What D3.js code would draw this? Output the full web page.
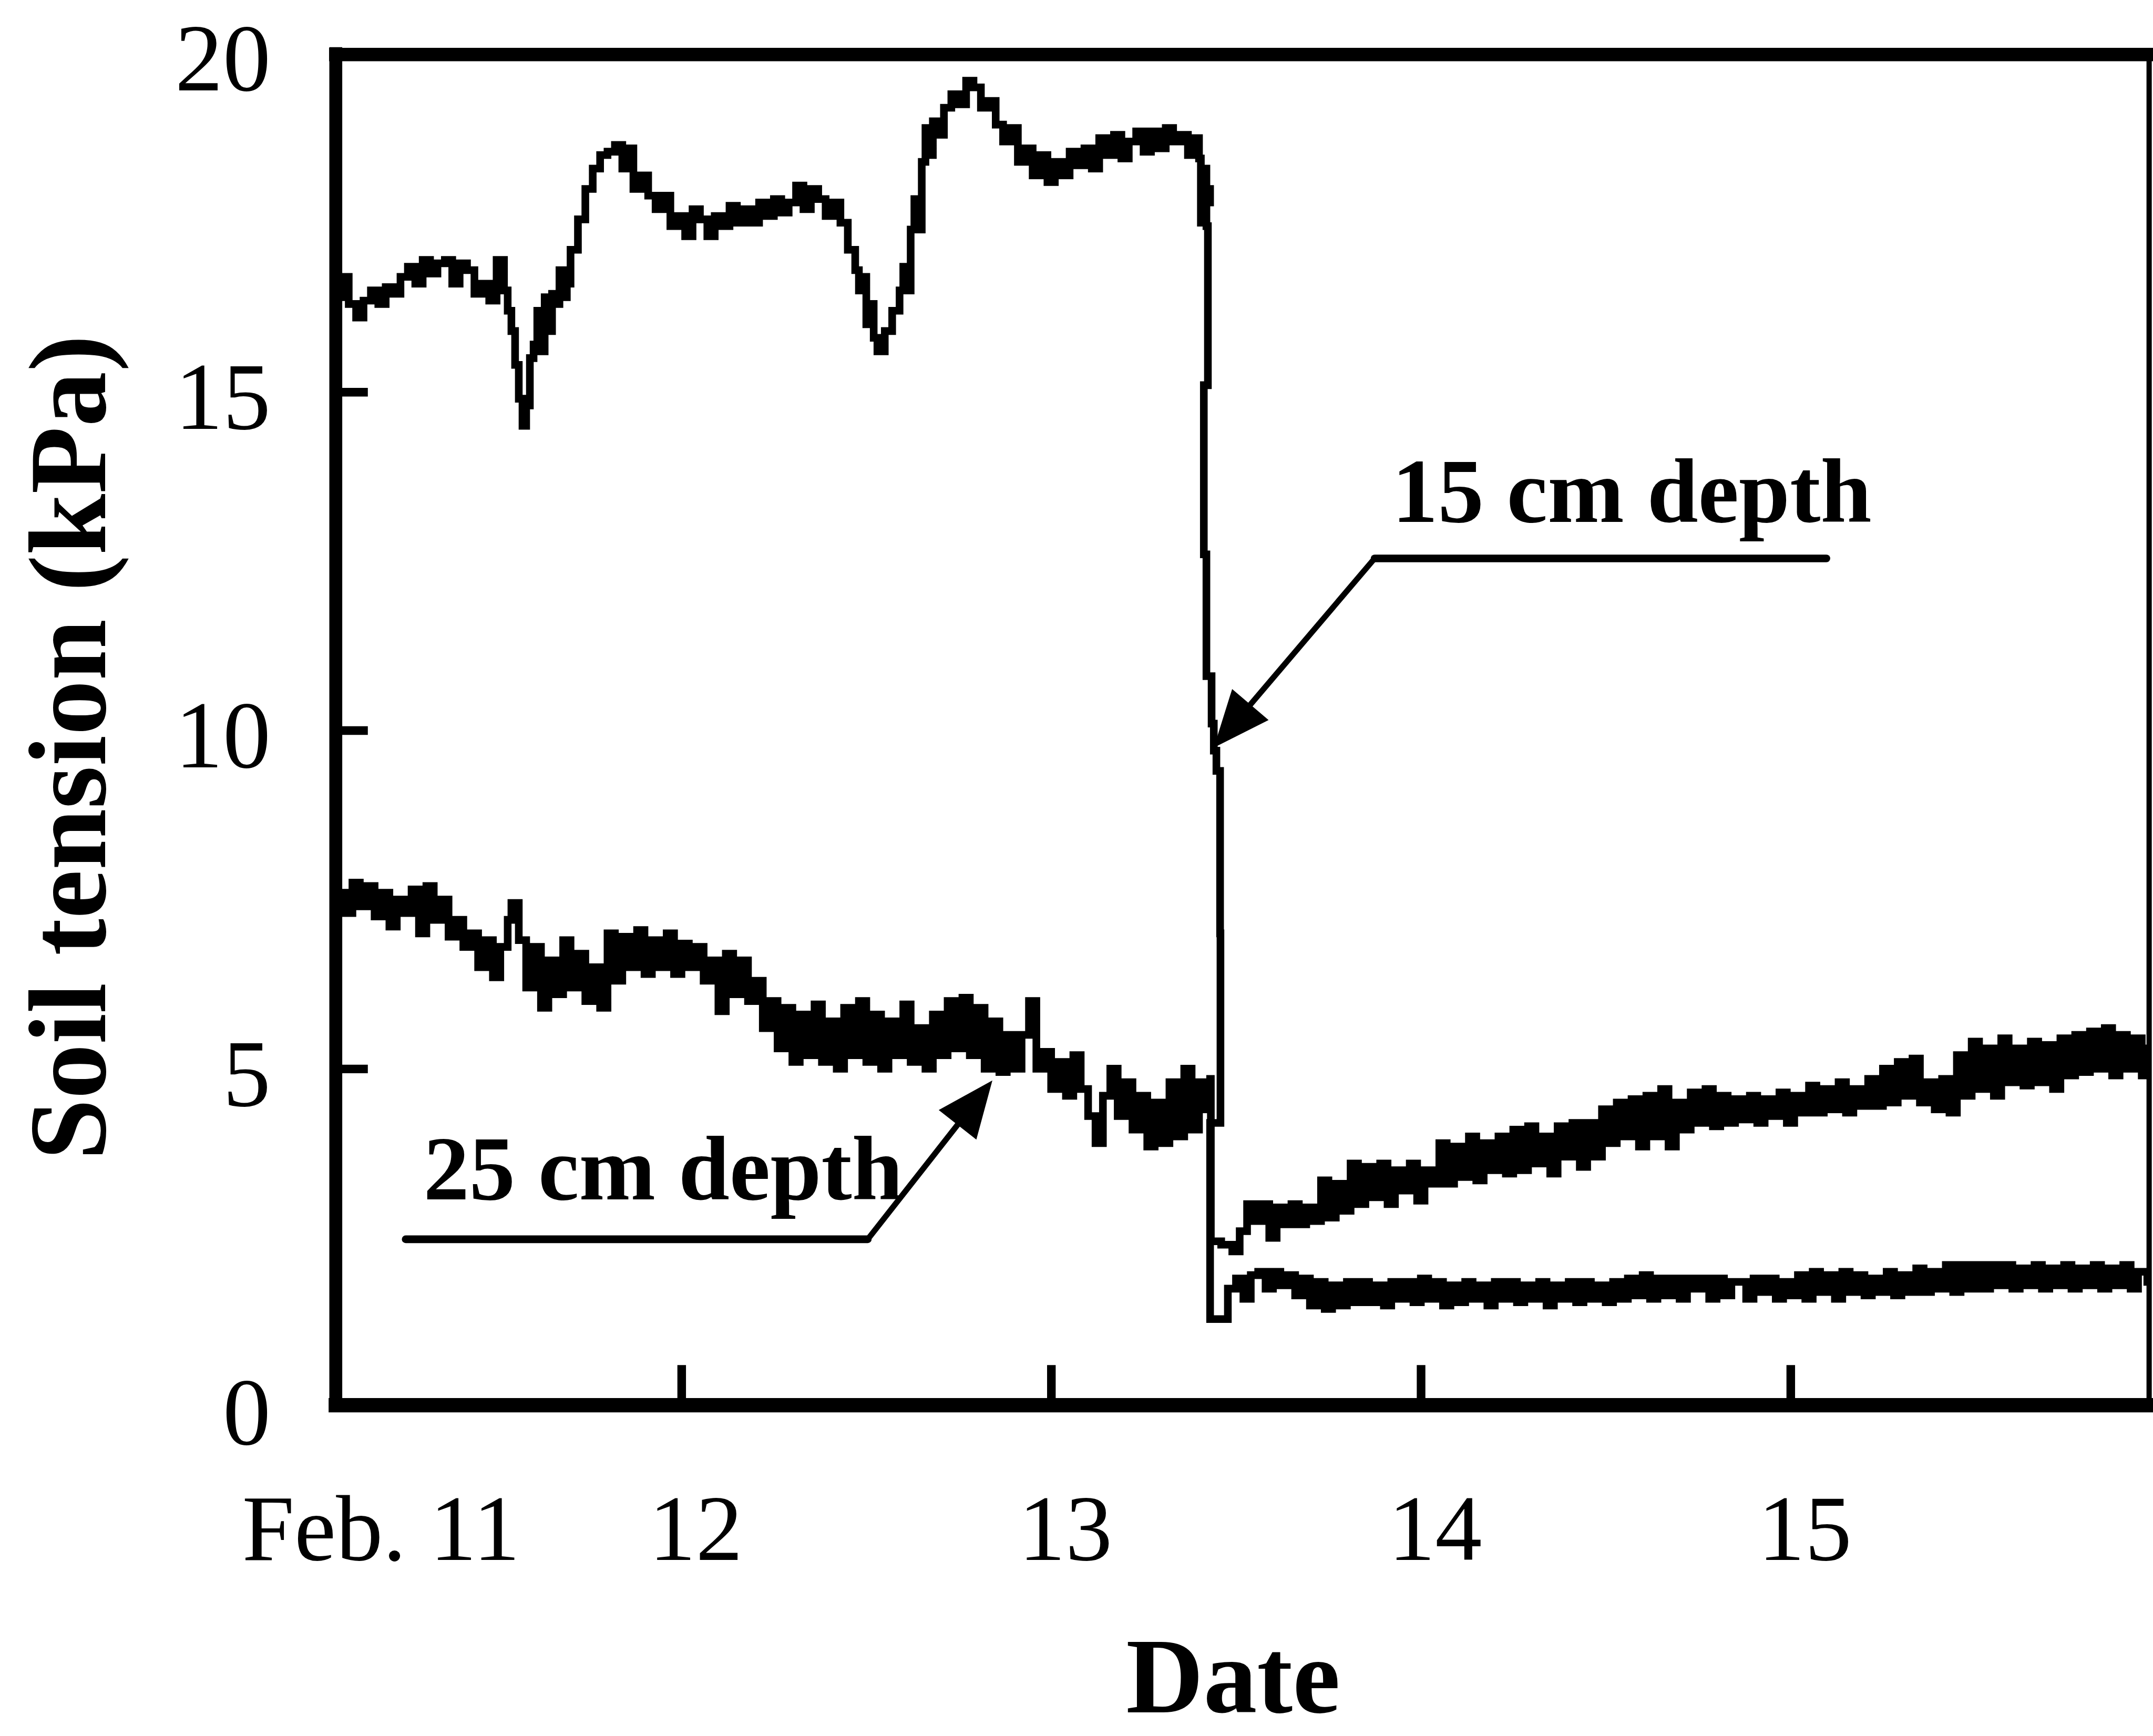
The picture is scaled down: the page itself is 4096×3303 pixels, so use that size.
<!DOCTYPE html>
<html><head><meta charset="utf-8">
<script src="https://cdn.jsdelivr.net/npm/d3@7"></script>
<style>body{margin:0;background:#fff} svg{display:block;background:#fff}</style>
</head><body>
<svg id="chart" width="4096" height="3303"></svg>
<script>
// ---------- data ----------
const yTickValues = [0, 5, 10, 15, 20];
const xTickDays = [12, 13, 14, 15];
const xTickLabels = ["Feb. 11", "12", "13", "14", "15"];
const xLabelDays = [11, 12, 13, 14, 15];

// 15 cm depth: [day of February, soil tension kPa]
const depth15 = [
[11.07,16.4],[11.09,16.7],[11.10,16.3],[11.12,16.1],[11.14,16.35],[11.16,16.5],[11.18,16.3],[11.20,16.55],[11.22,16.45],[11.24,16.7],
[11.26,16.85],[11.28,16.6],[11.30,16.95],[11.32,16.75],[11.34,16.9],[11.36,16.95],[11.38,16.6],[11.40,16.9],[11.42,16.8],[11.44,16.45],
[11.46,16.6],[11.48,16.35],[11.50,16.95],[11.52,16.5],[11.53,16.2],[11.54,15.9],[11.55,15.4],[11.56,14.9],[11.57,14.5],[11.58,14.8],
[11.59,15.5],[11.60,15.7],[11.61,16.2],[11.62,15.6],[11.63,16.4],[11.64,15.9],[11.65,16.45],[11.66,16.3],[11.67,16.8],[11.68,16.4],
[11.69,16.6],[11.70,17.1],[11.72,17.55],[11.74,18.0],[11.76,18.3],[11.78,18.5],[11.80,18.55],[11.82,18.65],[11.84,18.3],[11.85,18.6],
[11.87,18.0],[11.89,18.2],[11.91,17.9],[11.93,17.7],[11.95,17.9],[11.97,17.45],[11.99,17.6],[12.01,17.3],[12.03,17.7],[12.05,17.55],
[12.07,17.3],[12.09,17.6],[12.11,17.45],[12.13,17.75],[12.15,17.5],[12.17,17.7],[12.19,17.5],[12.21,17.8],[12.23,17.6],[12.25,17.85],
[12.27,17.65],[12.29,17.8],[12.31,18.05],[12.33,17.7],[12.35,18.0],[12.37,17.85],[12.39,17.6],[12.41,17.8],[12.43,17.5],[12.45,17.1],
[12.47,16.8],[12.48,16.5],[12.49,16.7],[12.50,16.0],[12.51,16.3],[12.52,15.8],[12.53,15.6],[12.55,15.9],[12.57,16.2],[12.59,16.5],
[12.60,16.85],[12.61,16.5],[12.62,17.4],[12.63,17.85],[12.64,17.4],[12.65,18.4],[12.66,18.9],[12.67,18.5],[12.68,19.0],[12.70,18.8],
[12.71,19.2],[12.73,19.4],[12.75,19.25],[12.77,19.6],[12.79,19.5],[12.81,19.2],[12.83,19.3],[12.85,18.95],[12.87,18.7],[12.89,18.9],
[12.91,18.4],[12.93,18.6],[12.95,18.2],[12.97,18.5],[12.99,18.1],[13.01,18.4],[13.03,18.2],[13.05,18.55],[13.07,18.35],[13.09,18.6],
[13.11,18.3],[13.13,18.75],[13.15,18.5],[13.17,18.8],[13.19,18.45],[13.21,18.7],[13.23,18.85],[13.25,18.55],[13.27,18.85],[13.29,18.6],
[13.31,18.9],[13.33,18.7],[13.35,18.8],[13.37,18.5],[13.39,18.75],[13.40,18.45],[13.405,17.5],[13.41,18.3],[13.42,18.0],[13.43,17.8],
[13.42,17.45],[13.424,15.1],[13.413,12.6],[13.42,10.8],[13.434,10.1],[13.44,9.7],[13.447,9.4],[13.457,7.0],[13.458,4.2],[13.43,4.1],
[13.43,1.3],[13.478,1.3],[13.478,1.75],[13.50,1.9],[13.52,1.6],[13.54,1.95],[13.56,2.0],[13.58,1.75],[13.60,2.0],[13.62,1.8],
[13.64,1.95],[13.66,1.65],[13.68,1.9],[13.70,1.5],[13.72,1.85],[13.74,1.45],[13.76,1.8],[13.78,1.5],[13.80,1.85],[13.82,1.55],
[13.84,1.85],[13.86,1.55],[13.88,1.8],[13.90,1.5],[13.92,1.85],[13.94,1.6],[13.96,1.85],[13.98,1.55],[14.00,1.9],[14.02,1.6],
[14.04,1.85],[14.06,1.5],[14.08,1.8],[14.10,1.55],[14.12,1.85],[14.14,1.6],[14.16,1.8],[14.18,1.5],[14.20,1.85],[14.22,1.6],
[14.24,1.85],[14.26,1.55],[14.28,1.8],[14.30,1.6],[14.32,1.85],[14.34,1.5],[14.36,1.8],[14.38,1.6],[14.40,1.85],[14.42,1.55],
[14.44,1.85],[14.46,1.6],[14.48,1.8],[14.50,1.55],[14.52,1.85],[14.54,1.6],[14.56,1.9],[14.58,1.65],[14.60,1.95],[14.62,1.6],
[14.64,1.9],[14.66,1.65],[14.68,1.9],[14.70,1.6],[14.72,1.9],[14.74,1.75],[14.76,1.9],[14.78,1.6],[14.80,1.9],[14.82,1.65],
[14.84,1.85],[14.86,1.85],[14.88,1.6],[14.90,1.9],[14.92,1.7],[14.94,1.9],[14.96,1.6],[14.98,1.85],[15.00,1.65],[15.02,1.95],
[15.04,1.6],[15.06,2.0],[15.08,1.7],[15.10,1.95],[15.12,1.6],[15.14,2.0],[15.16,1.7],[15.18,1.95],[15.20,1.65],[15.22,1.9],
[15.24,1.7],[15.26,2.0],[15.28,1.65],[15.30,1.95],[15.32,1.7],[15.34,2.05],[15.36,1.7],[15.38,2.0],[15.40,1.75],[15.42,2.1],
[15.44,1.7],[15.46,2.1],[15.48,1.75],[15.50,2.1],[15.52,1.75],[15.54,2.1],[15.56,1.8],[15.58,2.1],[15.60,1.75],[15.62,2.05],
[15.64,1.8],[15.66,2.1],[15.68,1.75],[15.70,2.05],[15.72,1.8],[15.74,2.1],[15.76,1.75],[15.78,2.05],[15.80,1.8],[15.82,2.1],
[15.84,1.75],[15.86,2.05],[15.88,1.8],[15.90,2.1],[15.92,1.75],[15.94,2.0],[15.965,1.85]
];

// 25 cm depth: [day of February, soil tension kPa]
const depth25 = [
[11.07,7.6],[11.09,7.3],[11.11,7.75],[11.13,7.4],[11.15,7.7],[11.17,7.25],[11.19,7.6],[11.21,7.1],[11.23,7.5],[11.25,7.3],
[11.27,7.65],[11.29,7.0],[11.31,7.7],[11.33,7.2],[11.35,7.5],[11.37,6.95],[11.39,7.2],[11.41,6.8],[11.43,7.0],[11.45,6.5],
[11.47,6.9],[11.49,6.35],[11.51,6.8],[11.53,7.2],[11.54,7.45],[11.56,6.9],[11.58,6.2],[11.60,6.8],[11.62,5.9],[11.64,6.6],
[11.66,6.1],[11.68,6.9],[11.70,6.2],[11.72,6.7],[11.74,6.0],[11.76,6.5],[11.78,5.9],[11.80,7.0],[11.82,6.3],[11.84,6.95],
[11.86,6.5],[11.88,7.05],[11.90,6.4],[11.92,6.9],[11.94,6.5],[11.96,7.0],[11.98,6.4],[12.00,6.85],[12.02,6.5],[12.04,6.8],
[12.06,6.3],[12.08,6.6],[12.10,5.85],[12.12,6.7],[12.14,6.1],[12.16,6.6],[12.18,6.0],[12.20,6.3],[12.22,5.6],[12.24,6.0],
[12.26,5.3],[12.28,5.9],[12.30,5.1],[12.32,5.8],[12.34,5.2],[12.36,5.95],[12.38,5.1],[12.40,5.7],[12.42,5.0],[12.44,5.9],
[12.46,5.2],[12.48,6.0],[12.50,5.1],[12.52,5.8],[12.54,5.0],[12.56,5.7],[12.58,5.2],[12.60,5.95],[12.62,5.1],[12.64,5.6],
[12.66,5.0],[12.68,5.8],[12.70,5.2],[12.72,6.0],[12.74,5.3],[12.76,6.05],[12.78,5.2],[12.80,5.9],[12.82,5.0],[12.84,5.7],
[12.86,4.95],[12.88,5.5],[12.90,5.0],[12.92,5.5],[12.94,6.0],[12.96,5.0],[12.98,5.25],[13.00,4.7],[13.02,5.1],[13.04,4.6],
[13.06,5.2],[13.08,4.7],[13.10,4.3],[13.12,3.9],[13.14,4.6],[13.16,5.0],[13.18,4.3],[13.20,4.8],[13.22,4.1],[13.24,4.6],
[13.26,3.85],[13.28,4.5],[13.30,3.9],[13.32,4.8],[13.34,4.0],[13.36,5.0],[13.38,4.1],[13.40,4.8],[13.42,4.4],[13.43,4.85],
[13.432,2.45],[13.46,2.4],[13.49,2.3],[13.51,2.6],[13.53,3.0],[13.55,2.75],[13.57,3.0],[13.59,2.5],[13.61,2.95],[13.63,2.7],
[13.65,3.0],[13.67,2.7],[13.69,2.95],[13.71,2.75],[13.73,3.35],[13.75,2.8],[13.77,3.3],[13.79,2.9],[13.81,3.6],[13.83,3.0],
[13.85,3.55],[13.87,3.1],[13.89,3.6],[13.91,3.0],[13.93,3.5],[13.95,3.2],[13.97,3.6],[13.99,3.05],[14.01,3.5],[14.03,3.3],
[14.05,3.9],[14.07,3.3],[14.09,3.85],[14.11,3.4],[14.13,4.0],[14.15,3.35],[14.17,3.9],[14.19,3.5],[14.21,4.0],[14.23,3.45],
[14.25,4.1],[14.27,3.5],[14.29,4.15],[14.31,3.6],[14.33,4.0],[14.35,3.45],[14.37,4.15],[14.39,3.7],[14.41,4.2],[14.43,3.55],
[14.45,4.2],[14.47,3.7],[14.49,4.4],[14.51,3.9],[14.53,4.5],[14.55,4.0],[14.57,4.55],[14.59,3.85],[14.61,4.6],[14.63,4.0],
[14.65,4.7],[14.67,3.85],[14.69,4.5],[14.71,4.1],[14.73,4.65],[14.75,4.2],[14.77,4.7],[14.79,4.15],[14.81,4.6],[14.83,4.2],
[14.85,4.55],[14.87,4.25],[14.89,4.6],[14.91,4.2],[14.93,4.55],[14.95,4.3],[14.97,4.65],[14.99,4.2],[15.01,4.6],[15.03,4.35],
[15.05,4.75],[15.07,4.35],[15.09,4.7],[15.11,4.4],[15.13,4.8],[15.15,4.35],[15.17,4.7],[15.19,4.45],[15.21,4.85],[15.23,4.45],
[15.25,5.0],[15.27,4.5],[15.29,5.1],[15.31,4.6],[15.33,5.15],[15.35,4.5],[15.37,4.8],[15.39,4.4],[15.41,4.85],[15.43,4.35],
[15.45,5.2],[15.47,4.6],[15.49,5.4],[15.51,4.7],[15.53,5.3],[15.55,4.6],[15.57,5.45],[15.59,4.8],[15.61,5.3],[15.63,4.75],
[15.65,5.4],[15.67,4.8],[15.69,5.35],[15.71,4.7],[15.73,5.45],[15.75,4.9],[15.77,5.5],[15.79,4.95],[15.81,5.55],[15.83,5.0],
[15.85,5.6],[15.87,4.9],[15.89,5.5],[15.91,5.0],[15.93,5.45],[15.95,4.9],[15.965,5.3]
];

// annotation anchors in data coordinates: label position, underline start/end, arrow tip
const annotations = [
  {text: "15 cm depth", textAt: [13.922, 13.08], lineFrom: [15.097, 12.54], elbow: [13.875, 12.54], tip: [13.440, 9.745]},
  {text: "25 cm depth", textAt: [11.302, 3.067], lineFrom: [11.254, 2.48], elbow: [12.504, 2.48], tip: [12.841, 4.827]}
];

// ---------- layout (reference pixel units, scaled to window) ----------
const S = 0.91;
const plotLeft = 702, plotRight = 4493, plotTop = 112, plotBottom = 2942;
const FONT = "'Liberation Serif', 'Times New Roman', Times, serif";

const svg = d3.select("#chart");
const g = svg.append("g").attr("transform", `scale(${S})`);

const x = d3.scaleLinear().domain([11.065, 15.97]).range([plotLeft, plotRight]);
const y = d3.scaleLinear().domain([0, 20]).range([plotBottom, plotTop]);

// clip
g.append("clipPath").attr("id", "plotclip")
  .append("rect").attr("x", plotLeft).attr("y", plotTop).attr("width", plotRight - plotLeft).attr("height", plotBottom - plotTop);

// series (data-logger steps)
const line = d3.line().x(d => x(d[0])).y(d => y(d[1])).curve(d3.curveStepAfter);
const series = g.append("g").attr("clip-path", "url(#plotclip)");
[depth15, depth25].forEach(data => {
  series.append("path").attr("d", line(data))
    .attr("fill", "none").attr("stroke", "#000").attr("stroke-width", 16)
    .attr("stroke-linejoin", "miter").attr("stroke-linecap", "square");
});

// y axis (ticks inside)
const yAxis = d3.axisLeft(y).tickValues(yTickValues).tickSize(-67).tickPadding(136).tickFormat(d3.format("d"));
const yg = g.append("g").attr("transform", `translate(${plotLeft},0)`).call(yAxis);
yg.select(".domain").remove();
yg.selectAll(".tick line").attr("stroke", "#000").attr("stroke-width", 18);
yg.selectAll(".tick text").attr("font-family", FONT).attr("font-size", 200).attr("fill", "#000").attr("dy", "0.385em");

// x axis ticks (inside)
const xAxis = d3.axisBottom(x).tickValues(xTickDays).tickSize(-84).tickFormat("");
const xg = g.append("g").attr("transform", `translate(0,${plotBottom - 4})`).call(xAxis);
xg.select(".domain").remove();
xg.selectAll(".tick line").attr("stroke", "#000").attr("stroke-width", 18);

// x tick labels
g.append("g").selectAll("text").data(xLabelDays).join("text")
  .attr("x", (d, i) => x(d) + (i === 0 ? 145 : 30))
  .attr("y", 3262)
  .attr("text-anchor", "middle")
  .attr("font-family", FONT).attr("font-size", 196).attr("fill", "#000")
  .text((d, i) => xTickLabels[i]);

// frame
const frame = g.append("g").attr("stroke", "#000").attr("stroke-linecap", "square");
frame.append("line").attr("x1", plotLeft).attr("x2", plotLeft).attr("y1", plotTop).attr("y2", plotBottom - 4).attr("stroke-width", 27);
frame.append("line").attr("x1", plotLeft).attr("x2", plotRight).attr("y1", plotTop + 2).attr("y2", plotTop + 2).attr("stroke-width", 28);
frame.append("line").attr("x1", plotLeft).attr("x2", plotRight).attr("y1", plotBottom - 4).attr("y2", plotBottom - 4).attr("stroke-width", 30);
frame.append("line").attr("x1", plotRight).attr("x2", plotRight).attr("y1", plotTop).attr("y2", plotBottom - 4).attr("stroke-width", 11);

// axis titles
g.append("text")
  .attr("transform", `translate(220,1563) rotate(-90)`)
  .attr("text-anchor", "middle")
  .attr("font-family", FONT).attr("font-weight", "bold").attr("font-size", 230).attr("fill", "#000")
  .text("Soil tension (kPa)");
g.append("text")
  .attr("x", 2578).attr("y", 3580)
  .attr("text-anchor", "middle")
  .attr("font-family", FONT).attr("font-weight", "bold").attr("font-size", 224).attr("fill", "#000")
  .text("Date");

// annotations
const ann = g.append("g");
annotations.forEach(a => {
  ann.append("text")
    .attr("x", x(a.textAt[0])).attr("y", y(a.textAt[1]))
    .attr("font-family", FONT).attr("font-weight", "bold").attr("font-size", 192).attr("fill", "#000")
    .text(a.text);
  ann.append("line")
    .attr("x1", x(a.lineFrom[0])).attr("y1", y(a.lineFrom[1]))
    .attr("x2", x(a.elbow[0])).attr("y2", y(a.elbow[1]))
    .attr("stroke", "#000").attr("stroke-width", 16).attr("stroke-linecap", "round");
  const ex = x(a.elbow[0]), ey = y(a.elbow[1]), tx = x(a.tip[0]), ty = y(a.tip[1]);
  const dx = tx - ex, dy = ty - ey, len = Math.hypot(dx, dy), ux = dx / len, uy = dy / len;
  const headLen = 118, headHalf = 50;
  const bx = tx - ux * headLen, by = ty - uy * headLen;
  ann.append("line")
    .attr("x1", ex).attr("y1", ey).attr("x2", bx + ux * 20).attr("y2", by + uy * 20)
    .attr("stroke", "#000").attr("stroke-width", 12);
  ann.append("polygon")
    .attr("points", [[tx, ty], [bx - uy * headHalf, by + ux * headHalf], [bx + uy * headHalf, by - ux * headHalf]].map(p => p.join(",")).join(" "))
    .attr("fill", "#000");
});
</script>
</body></html>
